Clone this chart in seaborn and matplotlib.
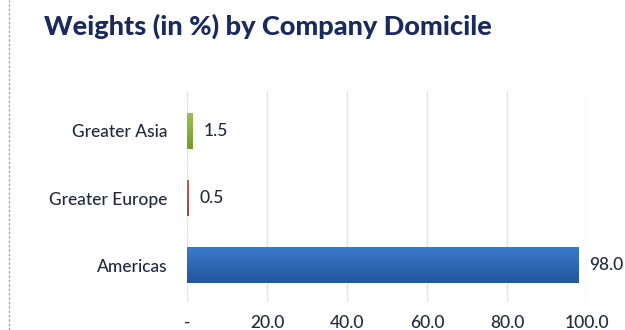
import matplotlib
matplotlib.use("Agg")
import matplotlib.pyplot as plt
import seaborn as sns
import pandas as pd
import numpy as np
from matplotlib.lines import Line2D
from matplotlib.colors import LinearSegmentedColormap

regions = ["Greater Asia", "Greater Europe", "Americas"]
weights = [1.5, 0.5, 98.0]
bar_colors = ["#8AB23A", "#C0504D", "#2D69B4"]
bar_shades = [("#9CC24A", "#739A2C"), ("#CC5A57", "#A8403D"), ("#3A7ACB", "#23579E")]
x_ticks = [0, 20, 40, 60, 80, 100]
x_tick_labels = ["-", "20.0", "40.0", "60.0", "80.0", "100.0"]
title = "Weights (in %) by Company Domicile"

df = pd.DataFrame({"region": regions, "weight": weights})

sns.set_theme(style="white")
plt.rcParams["font.family"] = ["Lato", "DejaVu Sans"]

W, H = 625, 330
fig = plt.figure(figsize=(W / 100, H / 100), dpi=100)
left, right, top, bottom = 187, 587, 92, 302
ax = fig.add_axes([left / W, 1 - bottom / H, (right - left) / W, (bottom - top) / H])

sns.barplot(data=df, x="weight", y="region", hue="region", palette=bar_colors,
            order=regions, hue_order=regions, width=0.54, legend=False,
            ax=ax, saturation=1, zorder=3)

# vertical shading on each bar, clipped to the bar rectangle
grad = np.linspace(0, 1, 64).reshape(-1, 1)
for patch, (c_top, c_bot) in zip(ax.patches, bar_shades):
    x0, y0 = patch.get_x(), patch.get_y()
    w, h = patch.get_width(), patch.get_height()
    cmap = LinearSegmentedColormap.from_list("shade", [c_top, c_bot])
    im = ax.imshow(grad, cmap=cmap, aspect="auto", origin="upper",
                   extent=[x0, x0 + w, y0 + h, y0], zorder=4,
                   interpolation="bilinear")
    im.set_clip_path(patch)

ax.set_xlim(0, 100)
ax.set_ylim(2.55, -0.58)
ax.set_xticks(x_ticks)
ax.set_xticklabels(x_tick_labels)
ax.set_xlabel("")
ax.set_ylabel("")
ax.grid(axis="x", color="#E2E2E2", linewidth=1, zorder=0)
for s in ax.spines.values():
    s.set_visible(False)
ax.tick_params(axis="both", length=0, labelsize=12.5, colors="#222840")
ax.tick_params(axis="x", pad=9)
ax.tick_params(axis="y", pad=14)
for lbl in ax.get_xticklabels() + ax.get_yticklabels():
    lbl.set_fontweight("medium")

for i, v in enumerate(weights):
    ax.text(v + 2.6, i, f"{v:.1f}", va="center", ha="left",
            fontsize=12.5, color="#222840", fontweight="medium")

fig.text(268 / W, 1 - 35 / H, title, ha="center", va="baseline",
         fontsize=19.5, fontweight="black", color="#1A2A5E")

fig.add_artist(Line2D([8.5 / W, 8.5 / W], [0, 1], transform=fig.transFigure,
                      color="#8E9EC4", linewidth=0.9, linestyle=(0, (2, 1.5))))

fig.savefig("out.png", dpi=100)
